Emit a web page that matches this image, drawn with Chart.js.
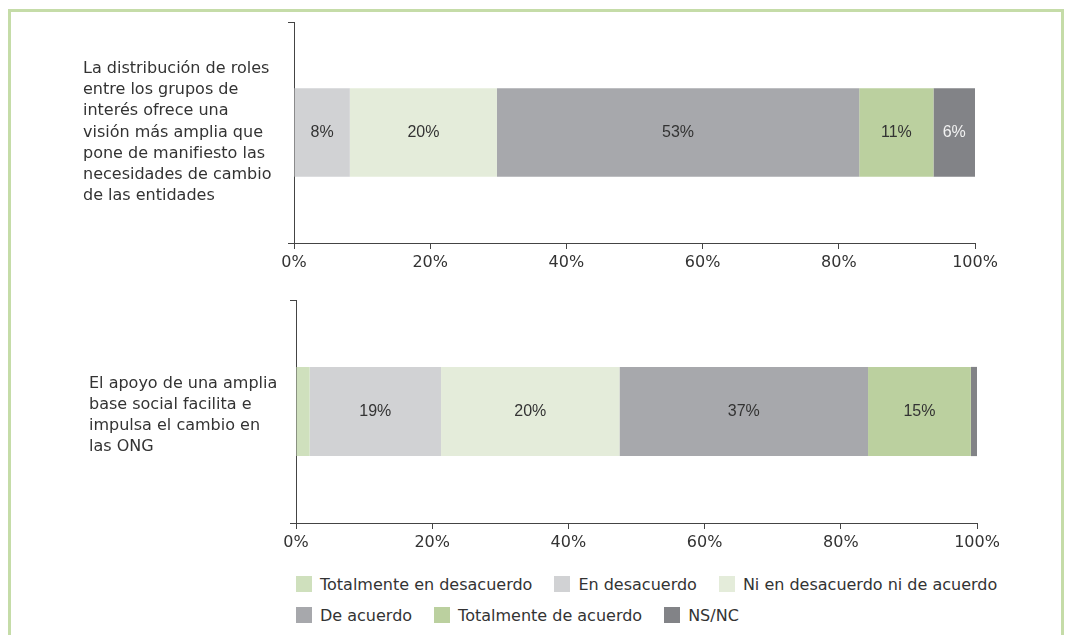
<!DOCTYPE html>
<html lang="es">
<head>
<meta charset="utf-8">
<title>Cambio en las ONG</title>
<script src="https://cdn.jsdelivr.net/npm/chart.js@4.4.1/dist/chart.umd.min.js"></script>
<style>
  html, body { margin: 0; padding: 0; background: #fff; }
  body { width: 1071px; height: 635px; position: relative; overflow: hidden; font-family: 'DejaVu Sans', sans-serif; }
  .marco { position: absolute; left: 8px; top: 9px; width: 1050px; height: 700px; border: 3px solid #c5dca8; }
  canvas { position: absolute; left: 0; }
  #grafico1 { top: 0; }
  #grafico2 { top: 280px; }
  #leyenda { position: absolute; left: 296px; top: 574px; width: 740px; display: flex; flex-wrap: wrap; column-gap: 22px; row-gap: 11px; font-size: 16px; color: #333; }
  .item { display: flex; align-items: center; height: 20px; white-space: nowrap; }
  .caja { width: 16px; height: 16px; margin-right: 8px; }
</style>
</head>
<body>
<div class="marco"></div>
<canvas id="grafico1" width="1071" height="290"></canvas>
<canvas id="grafico2" width="1071" height="290"></canvas>
<div id="leyenda"></div>

<script>
// Series (orden de la leyenda)
const series = ['Totalmente en desacuerdo', 'En desacuerdo', 'Ni en desacuerdo ni de acuerdo', 'De acuerdo', 'Totalmente de acuerdo', 'NS/NC'];
const colores = ['#cfe0bd', '#d1d2d4', '#e4ecda', '#a7a8ac', '#bbd09f', '#828387'];
const coloresTexto = ['#333', '#333', '#333', '#333', '#333', '#f2f2f2'];

// Grafico 1: distribucion de roles
const categoriasRoles = [['La distribución de roles', 'entre los grupos de', 'interés ofrece una', 'visión más amplia que', 'pone de manifiesto las', 'necesidades de cambio', 'de las entidades']];
const valoresRoles = [0, 8.2, 21.6, 53.2, 10.9, 6.1];
const etiquetasRoles = ['', '8%', '20%', '53%', '11%', '6%'];

// Grafico 2: apoyo de una amplia base social
const categoriasApoyo = [['El apoyo de una amplia', 'base social facilita e', 'impulsa el cambio en', 'las ONG']];
const valoresApoyo = [2.0, 19.3, 26.2, 36.5, 15.1, 0.9];
const etiquetasApoyo = ['', '19%', '20%', '37%', '15%', ''];

// Marcas del eje X
const ticksX = [0, 20, 40, 60, 80, 100];

Chart.defaults.font.family = "'DejaVu Sans', sans-serif";
Chart.defaults.color = '#333';

// Plugin sencillo para escribir los porcentajes dentro de cada tramo
const etiquetasBarras = {
    id: 'etiquetasBarras',
    afterDatasetsDraw(chart) {
        const ctx = chart.ctx;
        ctx.save();
        ctx.font = "16px 'Liberation Sans', sans-serif";
        ctx.textAlign = 'center';
        ctx.textBaseline = 'middle';
        chart.data.datasets.forEach((ds, i) => {
            const meta = chart.getDatasetMeta(i);
            meta.data.forEach((barra, j) => {
                const texto = ds.etiquetas[j];
                if (!texto) return;
                const { x, y, base } = barra.getProps(['x', 'y', 'base'], true);
                ctx.fillStyle = ds.colorTexto;
                ctx.fillText(texto, (x + base) / 2, y);
            });
        });
        ctx.restore();
    }
};

function crearGrafico(id, categorias, valores, etiquetas, relleno, anchoY, desplazamiento) {
    return new Chart(document.getElementById(id), {
        type: 'bar',
        data: {
            labels: categorias,
            datasets: series.map((nombre, i) => ({
                label: nombre,
                data: [valores[i]],
                etiquetas: [etiquetas[i]],
                backgroundColor: colores[i],
                colorTexto: coloresTexto[i],
                borderWidth: 0
            }))
        },
        options: {
            indexAxis: 'y',
            responsive: false,
            animation: false,
            layout: { padding: relleno },
            plugins: { legend: { display: false }, tooltip: { enabled: false } },
            datasets: { bar: { categoryPercentage: 1, barPercentage: 0.4 } },
            scales: {
                x: {
                    stacked: true,
                    min: 0,
                    max: 100,
                    afterBuildTicks: s => { s.ticks = ticksX.map(v => ({ value: v })); },
                    border: { color: '#444' },
                    grid: { drawOnChartArea: false, tickLength: 6, color: '#444' },
                    ticks: { padding: 4, maxRotation: 0, color: '#333', font: { size: 16 }, callback: v => v + '%' },
                    afterFit: s => { s.height = 40; }
                },
                y: {
                    stacked: true,
                    border: { color: '#444' },
                    grid: { drawOnChartArea: false, tickLength: 6, color: '#444', offset: true },
                    ticks: { crossAlign: 'far', labelOffset: desplazamiento, color: '#333', font: { size: 16, lineHeight: 1.325 } },
                    afterFit: s => {
                        s.width = anchoY;
                        // las etiquetas largas no deben encoger el area del grafico
                        s.paddingTop = 0;
                        s.paddingBottom = 0;
                    }
                }
            }
        },
        plugins: [etiquetasBarras]
    });
}

document.addEventListener('DOMContentLoaded', () => {
    crearGrafico('grafico1', categoriasRoles, valoresRoles, etiquetasRoles, { left: 83, right: 96, top: 22, bottom: 7 }, 211, 0);
    crearGrafico('grafico2', categoriasApoyo, valoresApoyo, etiquetasApoyo, { left: 89, right: 94, top: 20, bottom: 7 }, 207, 4);

    // Leyenda en HTML a partir de las series
    const leyenda = document.getElementById('leyenda');
    series.forEach((nombre, i) => {
        const item = document.createElement('div');
        item.className = 'item';
        const caja = document.createElement('span');
        caja.className = 'caja';
        caja.style.background = colores[i];
        const texto = document.createElement('span');
        texto.textContent = nombre;
        item.appendChild(caja);
        item.appendChild(texto);
        leyenda.appendChild(item);
    });
});
</script>
</body>
</html>
